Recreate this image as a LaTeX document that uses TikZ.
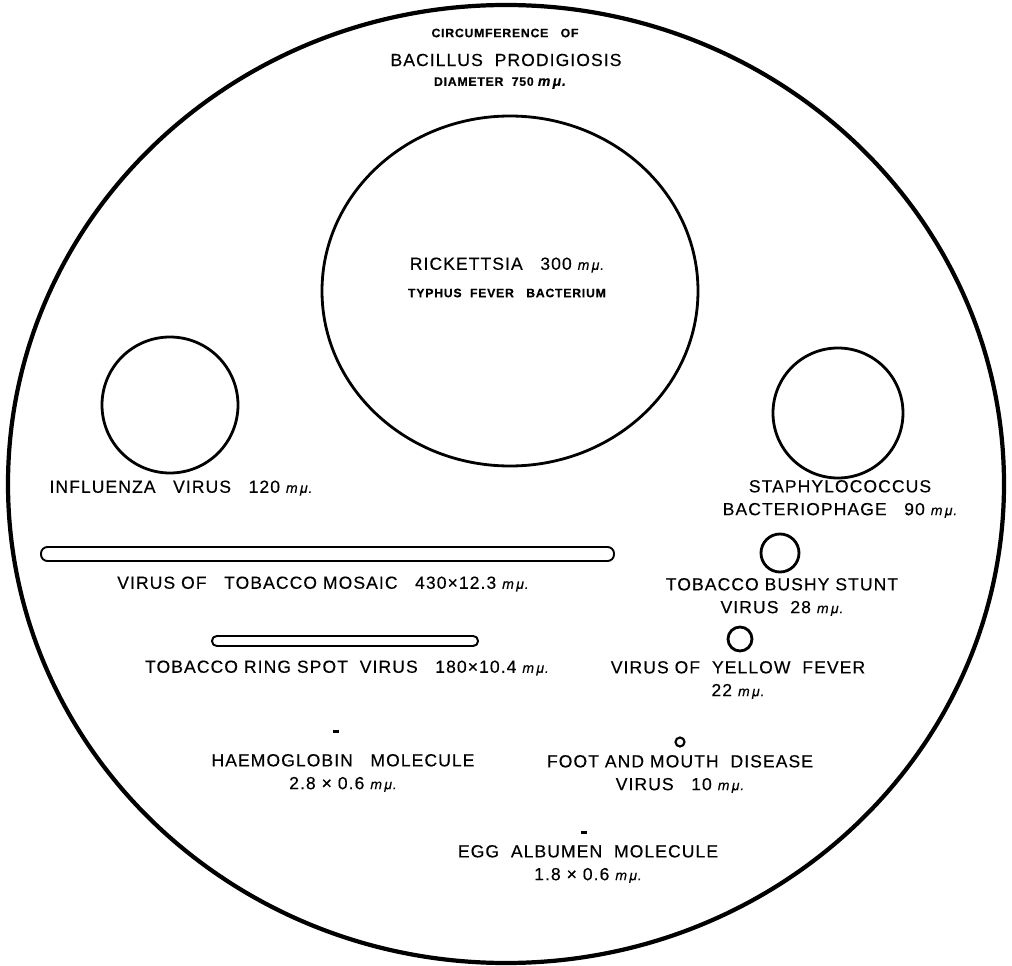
\documentclass[tikz,border=0pt]{standalone}
\usepackage{fontspec}
\setmainfont{Liberation Sans}
\newfontfamily\hand{Liberation Sans}[LetterSpace=6, FakeBold=0.3]
\usetikzlibrary{positioning}
\tikzset{
  lbl/.style={font=\hand\fontsize{10}{13}\selectfont, inner sep=0pt, align=center},
  tiny/.style={font=\hand\bfseries\fontsize{7}{8}\selectfont, inner sep=0pt},
  ring/.style={line width=1.6pt},
  rod/.style={line width=1.1pt, rounded corners=0.13cm}
}
\newcommand{\mmu}{{\fontsize{8}{8}\selectfont\itshape m\,μ.}}

\begin{document}
\begin{tikzpicture}[x=0.02cm,y=-0.02cm]
  \useasboundingbox (0,0) rectangle (1012,966);
  \draw[line width=2.4pt] (506,484) ellipse [x radius=498, y radius=479];

  \node[tiny] (circ) at (505,33) {CIRCUMFERENCE\quad OF};
  \node[lbl] (bac) at (506,60) {BACILLUS\ \ PRODIGIOSIS};
  \node[tiny] (diam) at (500,83) {DIAMETER\ \ 750 \mmu};

  \draw[ring] (510,291) ellipse [x radius=188, y radius=175];
  \node[lbl] (rick) at (507,265) {RICKETTSIA\quad 300 \mmu};
  \node[tiny] (typh) at (507,293) {TYPHUS\ \ FEVER\quad BACTERIUM};

  \draw[ring] (170,405) circle [radius=68];
  \node[lbl] (flu) at (181,488) {INFLUENZA\quad VIRUS\quad 120 \mmu};

  \draw[ring] (838,413) circle [radius=65];
  \node[lbl] (staph) at (840,499) {STAPHYLOCOCCUS\\BACTERIOPHAGE\quad 90 \mmu};

  \draw[rod] (41,547) rectangle (614,561);
  \node[lbl] (tmv) at (323,584) {VIRUS OF\quad TOBACCO MOSAIC\quad 430×12.3 \mmu};

  \draw[ring] (780,553) circle [radius=19];
  \node[lbl] (bushy) at (782,597) {TOBACCO BUSHY STUNT\\VIRUS\ \ 28 \mmu};

  \draw[rod, rounded corners=0.095cm] (212,636) rectangle (478,646);
  \node[lbl] (ringspot) at (347,668) {TOBACCO RING SPOT\ \ VIRUS\quad 180×10.4 \mmu};

  \draw[ring] (740,639) circle [radius=12];
  \node[lbl] (yellow) at (738,680) {VIRUS OF\ \ YELLOW\ \ FEVER\\22 \mmu};

  \fill (333,730) rectangle (339,733);
  \node[lbl] (haem) at (343,773) {HAEMOGLOBIN\quad MOLECULE\\2.8 × 0.6 \mmu};

  \draw[line width=1.2pt] (680,742) circle [radius=4.5];
  \node[lbl] (foot) at (680,774) {FOOT AND MOUTH\ \ DISEASE\\VIRUS\quad 10 \mmu};

  \fill (581,831) rectangle (587,834);
  \node[lbl] (egg) at (588,864) {EGG\ \ ALBUMEN\ \ MOLECULE\\1.8 × 0.6 \mmu};
\end{tikzpicture}
\end{document}
